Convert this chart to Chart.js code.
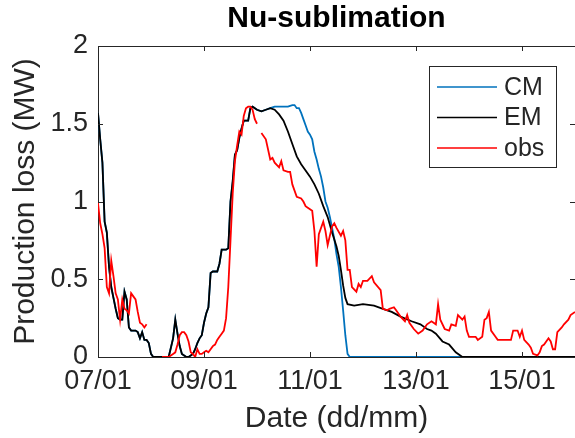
<!DOCTYPE html>
<html>
<head>
<meta charset="utf-8">
<script src="https://cdn.jsdelivr.net/npm/chart.js@4/dist/chart.umd.min.js"></script>
<style>
  html, body { margin: 0; padding: 0; background: #fff; }
  #wrap { width: 575px; height: 438px; }
</style>
</head>
<body>
<div id="wrap"><canvas id="graph" width="575" height="438"></canvas></div>
<script>
// hours since 07/01 00:00
const emHours = [0,1,2,3,4,5,6,7,8,9,10,11,12,13,14,15,16,17,18,19,20,21,22,23,24,25,
  32,33,34,35,36,37,38,39,40,41,42,43,44,45,46,47,48,49,50,51,52,53,54,55,56,57,58,59,60,
  61,62,63,64,65,66,67,68,69,70,72,74,76,78,80,82,84,86,88,90,92,94,96,98,100,102,104,106,108,
  109,110,111,112,113,116,120,125,129,133,137,142,146,149,151,153,156,159,162,165,216]
const emValues = [1.57,1.40,1.25,0.87,0.80,0.58,0.45,0.38,0.31,0.25,0.24,0.24,0.42,0.37,0.19,0.17,0.17,0.17,0.16,0.12,0.16,0.11,0.11,0.09,0.02,0,
  0,0.06,0.12,0.24,0.15,0.07,0.02,0.01,0,0,0.01,0.02,0.05,0.09,0.12,0.14,0.22,0.28,0.32,0.54,0.55,0.55,0.55,0.60,0.69,0.69,0.69,0.70,1.00,
  1.13,1.30,1.33,1.41,1.47,1.52,1.52,1.52,1.60,1.61,1.59,1.58,1.59,1.60,1.59,1.56,1.52,1.45,1.37,1.29,1.24,1.20,1.16,1.11,1.05,0.97,0.90,0.80,0.71,
  0.65,0.56,0.46,0.38,0.34,0.33,0.34,0.33,0.31,0.29,0.26,0.23,0.21,0.18,0.17,0.15,0.10,0.08,0.03,0,0]

const cmHours = [0,1,2,3,4,5,6,7,8,9,10,11,12,13,14,15,16,17,18,19,20,21,22,23,24,25,
  32,33,34,35,36,37,38,39,40,41,42,43,44,45,46,47,48,49,50,51,52,53,54,55,56,57,58,59,60,
  61,62,63,64,65,66,67,68,69,70,72,74,76,78,80,82,84,86,88,89,90,91,92,93,94,95,96,97,98,99,100,
  101,102,103,104,105,106,107,108,109,110,111,112,113,114,216]
const cmValues = [1.57,1.40,1.25,0.87,0.80,0.58,0.45,0.38,0.31,0.25,0.24,0.24,0.42,0.37,0.19,0.17,0.17,0.17,0.16,0.12,0.16,0.11,0.11,0.09,0.02,0,
  0,0.06,0.12,0.24,0.15,0.07,0.02,0.01,0,0,0.01,0.02,0.05,0.09,0.12,0.14,0.22,0.28,0.32,0.54,0.55,0.55,0.55,0.60,0.69,0.69,0.69,0.70,1.00,
  1.13,1.30,1.33,1.41,1.47,1.52,1.52,1.52,1.60,1.61,1.59,1.58,1.59,1.60,1.61,1.61,1.61,1.61,1.62,1.62,1.60,1.60,1.57,1.53,1.49,1.45,1.43,1.40,1.32,1.27,1.21,
  1.16,1.09,1.00,0.96,0.90,0.83,0.76,0.66,0.58,0.45,0.30,0.14,0.02,0,0]

// null = no observation (gap in the line)
const obsHours = [0,1,2,3,4,5,6,7,8,9,10,11,12,13,14,15,16,17,18,19,20,21,22,
  25,
  29,30,31,32,33,34,35,36,37,38,39,40,41,42,43,44,45,46,47,48,49,50,51,52,53,54,55,56,57,58,59,60,
  61,62,63,64,65,66,67,68,69,70,71,72,
  73,
  74,76,78,79,80,82,83,84,86,87,88,90,92,93,94,95,97,98,99,100,102,103,104,106,107,108,110,111,112,113,114,115,
  117,118,119,120,122,124,125,128,129,131,132,134,135,137,139,140,141,143,145,147,149,151,153,154,155,157,159,160,
  162,163,165,166,167,168,171,172,174,175,176,177,178,180,181,184,187,188,190,191,192,193,195,196,197,199,200,201,
  202,204,205,206,207,208,210,211,213,214,216]
const obsValues = [0.99,0.86,0.79,0.70,0.45,0.41,0.62,0.52,0.41,0.37,0.24,0.37,0.31,0.30,0.28,0.41,0.39,0.37,0.29,0.22,0.21,0.19,0.21,
  null,
  0,0,0,0,0.01,0.02,0.03,0.08,0.14,0.16,0.16,0.14,0.10,0.03,0.02,0,0.05,0.02,0.02,0.03,0.04,0.03,0.05,0.07,0.08,0.11,0.13,0.15,0.17,0.25,0.45,0.75,
  1.05,1.26,1.36,1.45,1.43,1.55,1.60,1.61,1.61,1.59,1.53,1.50,
  null,
  1.44,1.40,1.27,1.28,1.25,1.22,1.26,1.20,1.19,1.19,1.11,1.03,1.02,1.00,0.97,0.96,0.94,0.81,0.58,0.79,0.87,0.81,0.72,0.84,0.86,0.83,0.78,0.81,0.75,0.56,0.56,0.45,
  0.42,0.47,0.45,0.49,0.49,0.52,0.48,0.43,0.31,0.30,0.31,0.32,0.30,0.26,0.23,0.27,0.22,0.18,0.15,0.17,0.21,0.23,0.21,0.34,0.24,0.18,0.17,0.21,
  0.20,0.27,0.24,0.26,0.17,0.13,0.13,0.11,0.13,0.24,0.25,0.29,0.17,0.13,0.11,0.11,0.11,0.17,0.17,0.13,0.17,0.11,0.08,0.06,0.02,0.01,0.03,0.07,
  0.08,0.12,0.10,0.05,0.05,0.16,0.19,0.21,0.24,0.27,0.29]

const xTickLabels = ['07/01', '09/01', '11/01', '13/01', '15/01']
const seriesNames = ['CM', 'EM', 'obs']
const chartTitle = 'Nu-sublimation'

const axisColor = '#262626'
const fontFamily = '"Liberation Sans", Arial, sans-serif'

function points(hours, values) {
  return hours.map((h, i) => ({x: h, y: values[i]}))
}

// title, box round the axes, inward ticks and the legend
const matlabAxes = {
  id: 'matlabAxes',
  afterDraw(chart) {
    let ctx = chart.ctx
    let a = chart.chartArea
    let xs = chart.scales.x
    let ys = chart.scales.y
    ctx.save()

    // title over the axes
    ctx.fillStyle = '#000'
    ctx.font = 'bold 30px ' + fontFamily
    ctx.textAlign = 'center'
    ctx.textBaseline = 'middle'
    ctx.fillText(chartTitle, (a.left + a.right) / 2, 19)

    ctx.strokeStyle = axisColor
    ctx.lineWidth = 1
    ctx.beginPath()
    ctx.moveTo(a.left, a.top + 0.5)
    ctx.lineTo(a.right, a.top + 0.5)
    for (let t of xs.ticks) {
      let px = Math.round(xs.getPixelForValue(t.value)) + 0.5
      ctx.moveTo(px, a.bottom); ctx.lineTo(px, a.bottom - 5)
      ctx.moveTo(px, a.top); ctx.lineTo(px, a.top + 5)
    }
    for (let t of ys.ticks) {
      let py = Math.round(ys.getPixelForValue(t.value)) + 0.5
      ctx.moveTo(a.left, py); ctx.lineTo(a.left + 5, py)
      ctx.moveTo(a.right, py); ctx.lineTo(a.right - 5, py)
    }
    ctx.stroke()

    // legend
    let bx = 429.5, by = 66.5, bw = 127, bh = 101
    ctx.fillStyle = '#fff'
    ctx.fillRect(bx, by, bw, bh)
    ctx.strokeRect(bx, by, bw, bh)
    ctx.font = '25px ' + fontFamily
    ctx.textBaseline = 'middle'
    ctx.textAlign = 'left'
    seriesNames.forEach((name, i) => {
      let ds = chart.data.datasets.find(d => d.label == name)
      let ly = 87 + i * 30.5
      ctx.strokeStyle = ds.borderColor
      ctx.lineWidth = 1.6
      ctx.beginPath()
      ctx.moveTo(437, ly); ctx.lineTo(497, ly)
      ctx.stroke()
      ctx.fillStyle = axisColor
      ctx.fillText(name, 504, ly + 1)
    })
    ctx.restore()
  }
}

let ctx = document.getElementById('graph').getContext('2d')

new Chart(ctx, {
  type: 'line',
  data: {
    datasets: [{
      label: seriesNames[0],
      data: points(cmHours, cmValues),
      borderColor: '#0072BD',
      borderWidth: 1.8,
      order: 2
    },
    {
      label: seriesNames[1],
      data: points(emHours, emValues),
      borderColor: '#000000',
      borderWidth: 1.8,
      order: 1
    },
    {
      label: seriesNames[2],
      data: points(obsHours, obsValues),
      borderColor: '#FF0000',
      borderWidth: 1.8,
      order: 0
    }]
  },
  options: {
    responsive: false,
    animation: false,
    spanGaps: false,
    layout: {padding: {left: 0, right: 0, top: 46, bottom: 0}},
    elements: {point: {radius: 0}, line: {tension: 0}},
    plugins: {
      legend: {display: false},
      tooltip: {enabled: false},
      title: {display: false}
    },
    scales: {
      x: {
        type: 'linear',
        min: 0,
        max: 216,
        grid: {display: false, drawTicks: false},
        border: {display: true, color: axisColor, width: 1},
        ticks: {
          stepSize: 48,
          includeBounds: false,
          autoSkip: false,
          maxRotation: 0,
          padding: 8,
          color: axisColor,
          font: {family: fontFamily, size: 27},
          callback: (v) => xTickLabels[v / 48]
        },
        title: {
          display: true,
          text: 'Date (dd/mm)',
          color: axisColor,
          font: {family: fontFamily, size: 30, lineHeight: 1.2},
          padding: {top: 0, bottom: 1}
        },
        afterFit: (scale) => { scale.height = 81 }
      },
      y: {
        min: 0,
        max: 2,
        grid: {display: false, drawTicks: false},
        border: {display: true, color: axisColor, width: 1},
        ticks: {
          stepSize: 0.5,
          padding: 10,
          color: axisColor,
          font: {family: fontFamily, size: 27},
          callback: (v) => String(v)
        },
        title: {
          display: true,
          text: 'Production loss (MW)',
          color: axisColor,
          font: {family: fontFamily, size: 30, lineHeight: 1.2},
          padding: {top: 8, bottom: 0}
        },
        afterFit: (scale) => { scale.width = 98 }
      }
    }
  },
  plugins: [matlabAxes]
})
</script>
</body>
</html>
